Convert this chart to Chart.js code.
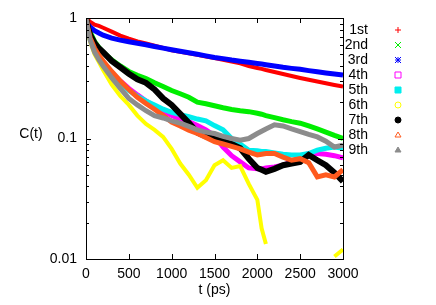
<!DOCTYPE html>
<html>
<head>
<meta charset="utf-8">
<script src="https://cdn.jsdelivr.net/npm/chart.js@4/dist/chart.umd.min.js"></script>
<style>
  html, body { margin: 0; padding: 0; background: #fff; }
</style>
</head>
<body>
<canvas id="corr" width="436" height="305"></canvas>
<script>
// time axis (ps) and C(t)
const times = [0, 25, 50, 100, 150, 200, 300, 400, 500, 600, 700, 800, 900, 1000, 1100, 1200, 1300, 1400, 1500, 1600, 1700, 1800, 1900, 2000, 2050, 2100, 2200, 2300, 2400, 2500, 2600, 2700, 2800, 2900, 3000];

const first   = [1.0, 0.96, 0.93, 0.88, 0.86, 0.83, 0.77, 0.715, 0.675, 0.64, 0.615, 0.59, 0.565, 0.54, 0.525, 0.51, 0.495, 0.48, 0.465, 0.45, 0.435, 0.42, 0.40, 0.385, 0.378, 0.37, 0.356, 0.343, 0.33, 0.318, 0.307, 0.297, 0.287, 0.278, 0.27];
const second  = [1.0, 0.85, 0.76, 0.64, 0.57, 0.52, 0.45, 0.40, 0.36, 0.335, 0.315, 0.29, 0.27, 0.25, 0.235, 0.22, 0.2, 0.194, 0.187, 0.18, 0.174, 0.17, 0.167, 0.162, 0.159, 0.155, 0.149, 0.143, 0.138, 0.134, 0.127, 0.12, 0.113, 0.106, 0.1];
const third   = [0.93, 0.88, 0.84, 0.785, 0.75, 0.72, 0.68, 0.655, 0.635, 0.618, 0.6, 0.58, 0.562, 0.545, 0.53, 0.515, 0.5, 0.485, 0.47, 0.46, 0.448, 0.438, 0.429, 0.42, 0.415, 0.41, 0.40, 0.39, 0.382, 0.375, 0.366, 0.358, 0.35, 0.343, 0.336];
const fourth  = [1.0, 0.8, 0.68, 0.56, 0.48, 0.43, 0.35, 0.3, 0.26, 0.23, 0.205, 0.185, 0.168, 0.155, 0.145, 0.138, 0.128, 0.118, 0.105, 0.085, 0.072, 0.064, 0.057, 0.056, 0.056, 0.057, 0.058, 0.06, 0.064, 0.07, 0.075, 0.075, 0.074, 0.072, 0.069];
const fifth   = [1.0, 0.78, 0.66, 0.54, 0.47, 0.42, 0.34, 0.29, 0.25, 0.225, 0.205, 0.19, 0.175, 0.165, 0.158, 0.152, 0.145, 0.14, 0.128, 0.118, 0.1, 0.09, 0.08, 0.079, 0.078, 0.078, 0.076, 0.074, 0.073, 0.073, 0.075, 0.08, 0.083, 0.085, 0.083];
const sixth   = [0.95, 0.75, 0.63, 0.5, 0.43, 0.37, 0.28, 0.225, 0.19, 0.155, 0.132, 0.118, 0.103, 0.082, 0.062, 0.05, 0.039, 0.045, 0.06, 0.066, 0.057, 0.059, 0.042, 0.031, 0.018, 0.0133, null, null, null, null, null, null, null, 0.0105, 0.012];
const seventh = [1.0, 0.82, 0.72, 0.62, 0.56, 0.52, 0.44, 0.39, 0.345, 0.31, 0.29, 0.255, 0.215, 0.19, 0.16, 0.135, 0.112, 0.104, 0.099, 0.095, 0.09, 0.083, 0.068, 0.057, 0.055, 0.053, 0.056, 0.06, 0.062, 0.064, 0.073, 0.066, 0.06, 0.052, 0.044];
const eighth  = [1.0, 0.8, 0.68, 0.56, 0.49, 0.44, 0.36, 0.3, 0.255, 0.22, 0.195, 0.175, 0.155, 0.137, 0.127, 0.117, 0.11, 0.102, 0.094, 0.09, 0.086, 0.082, 0.077, 0.073, 0.074, 0.075, 0.075, 0.07, 0.066, 0.068, 0.063, 0.048, 0.05, 0.048, 0.055];
const ninth   = [1.0, 0.78, 0.65, 0.52, 0.45, 0.4, 0.32, 0.26, 0.215, 0.19, 0.17, 0.155, 0.148, 0.14, 0.134, 0.126, 0.118, 0.113, 0.11, 0.104, 0.1, 0.097, 0.1, 0.11, 0.115, 0.12, 0.13, 0.127, 0.12, 0.114, 0.108, 0.103, 0.095, 0.085, 0.088];

const seriesNames = ['1st', '2nd', '3rd', '4th', '5th', '6th', '7th', '8th', '9th'];
const xTicks = [0, 500, 1000, 1500, 2000, 2500, 3000];
const yTicks = [0.01, 0.1, 1];

const allSeries = [first, second, third, fourth, fifth, sixth, seventh, eighth, ninth];
const colors = ['#ff0000', '#00ee00', '#0000ff', '#ff00ff', '#00eeee', '#ffff00', '#000000', '#ff5a1e', '#8c8c8c'];
const symbols = ['plus', 'cross', 'star', 'box', 'boxFill', 'circle', 'circleFill', 'tri', 'triFill'];
const widths = [4, 5, 5, 5, 5, 4, 6, 5, 5];

const FONT = '14px "Liberation Sans", Arial, sans-serif';

function drawSymbol(ctx, kind, x, y, color) {
    const r = 3;
    ctx.save();
    ctx.strokeStyle = color;
    ctx.fillStyle = color;
    ctx.lineWidth = 1;
    ctx.beginPath();
    if (kind === 'plus' || kind === 'star') {
        ctx.moveTo(x - r, y); ctx.lineTo(x + r, y);
        ctx.moveTo(x, y - r); ctx.lineTo(x, y + r);
    }
    if (kind === 'cross' || kind === 'star') {
        ctx.moveTo(x - r, y - r); ctx.lineTo(x + r, y + r);
        ctx.moveTo(x - r, y + r); ctx.lineTo(x + r, y - r);
    }
    if (kind === 'box' || kind === 'boxFill') ctx.rect(x - r, y - r, 2 * r, 2 * r);
    if (kind === 'circle' || kind === 'circleFill') ctx.arc(x, y, r, 0, Math.PI * 2);
    if (kind === 'tri' || kind === 'triFill') {
        ctx.moveTo(x, y - r); ctx.lineTo(x + r, y + r - 1); ctx.lineTo(x - r, y + r - 1); ctx.closePath();
    }
    if (kind.endsWith('Fill')) ctx.fill();
    ctx.stroke();
    ctx.restore();
}

// frame, inward ticks, axis titles, key
const gnuplotLook = {
    id: 'gnuplotLook',
    afterDraw(chart) {
        const ctx = chart.ctx;
        const a = chart.chartArea;
        const xs = chart.scales.x, ys = chart.scales.y;
        ctx.save();
        ctx.strokeStyle = '#000';
        ctx.lineWidth = 1;
        ctx.strokeRect(Math.round(a.left) + 0.5, Math.round(a.top) + 0.5, Math.round(a.right - a.left), Math.round(a.bottom - a.top));

        ctx.beginPath();
        xTicks.forEach(v => {
            const px = Math.round(xs.getPixelForValue(v)) + 0.5;
            ctx.moveTo(px, a.bottom); ctx.lineTo(px, a.bottom - 5);
            ctx.moveTo(px, a.top); ctx.lineTo(px, a.top + 5);
        });
        [0.01, 0.1].forEach(dec => {
            for (let m = 1; m < 10; m++) {
                const len = m === 1 ? 5 : 3;
                const py = Math.round(ys.getPixelForValue(dec * m)) + 0.5;
                ctx.moveTo(a.left, py); ctx.lineTo(a.left + len, py);
                ctx.moveTo(a.right, py); ctx.lineTo(a.right - len, py);
            }
        });
        ctx.stroke();

        ctx.fillStyle = '#000';
        ctx.font = FONT;
        ctx.textBaseline = 'middle';
        ctx.textAlign = 'center';
        ctx.fillText('t (ps)', (a.left + a.right) / 2, 290);
        ctx.fillText('C(t)', 31, 134);

        ctx.textAlign = 'right';
        seriesNames.forEach((name, i) => {
            const y = 30 + i * 15;
            ctx.fillStyle = '#000';
            ctx.fillText(name, 368, y);
            drawSymbol(ctx, symbols[i], 398, y, colors[i]);
        });
        ctx.restore();
    }
};

const datasets = allSeries.map((vals, i) => ({
    label: seriesNames[i],
    data: times.map((t, k) => ({ x: t, y: vals[k] })),
    borderColor: colors[i],
    backgroundColor: 'rgba(0,0,0,0)',
    borderWidth: widths[i],
    order: 9 - i,
    spanGaps: false,
    tension: 0,
    pointStyle: 'circle',
    pointBorderColor: colors[i],
    pointBorderWidth: 1,
    pointRadius: ctx => {
        const d = ctx.dataset.data;
        const k = ctx.dataIndex;
        if (d[k].y == null) return 0;
        const prevGap = k === 0 || d[k - 1].y == null;
        const nextGap = k === d.length - 1 || d[k + 1].y == null;
        return (prevGap && nextGap) ? 2.5 : 0;
    }
}));

new Chart(document.getElementById('corr'), {
    type: 'line',
    data: { datasets: datasets },
    options: {
        responsive: false,
        animation: false,
        layout: { padding: { top: 18, right: 93, left: 0, bottom: 0 } },
        plugins: {
            legend: { display: false },
            tooltip: { enabled: false }
        },
        scales: {
            x: {
                type: 'linear',
                min: 0,
                max: 3000,
                grid: { display: false, drawTicks: false },
                border: { display: false },
                afterBuildTicks: s => { s.ticks = xTicks.map(v => ({ value: v })); },
                afterFit: s => { s.height = 46; },
                ticks: {
                    padding: 7,
                    color: '#000',
                    maxRotation: 0,
                    font: { family: '"Liberation Sans", Arial, sans-serif', size: 14 },
                    callback: v => String(v)
                }
            },
            y: {
                type: 'logarithmic',
                min: 0.01,
                max: 1,
                grid: { display: false, drawTicks: false },
                border: { display: false },
                afterBuildTicks: s => { s.ticks = yTicks.map(v => ({ value: v })); },
                afterFit: s => { s.width = 86; },
                ticks: {
                    padding: 9,
                    color: '#000',
                    font: { family: '"Liberation Sans", Arial, sans-serif', size: 14 },
                    callback: v => String(v)
                }
            }
        }
    },
    plugins: [gnuplotLook]
});
</script>
</body>
</html>
